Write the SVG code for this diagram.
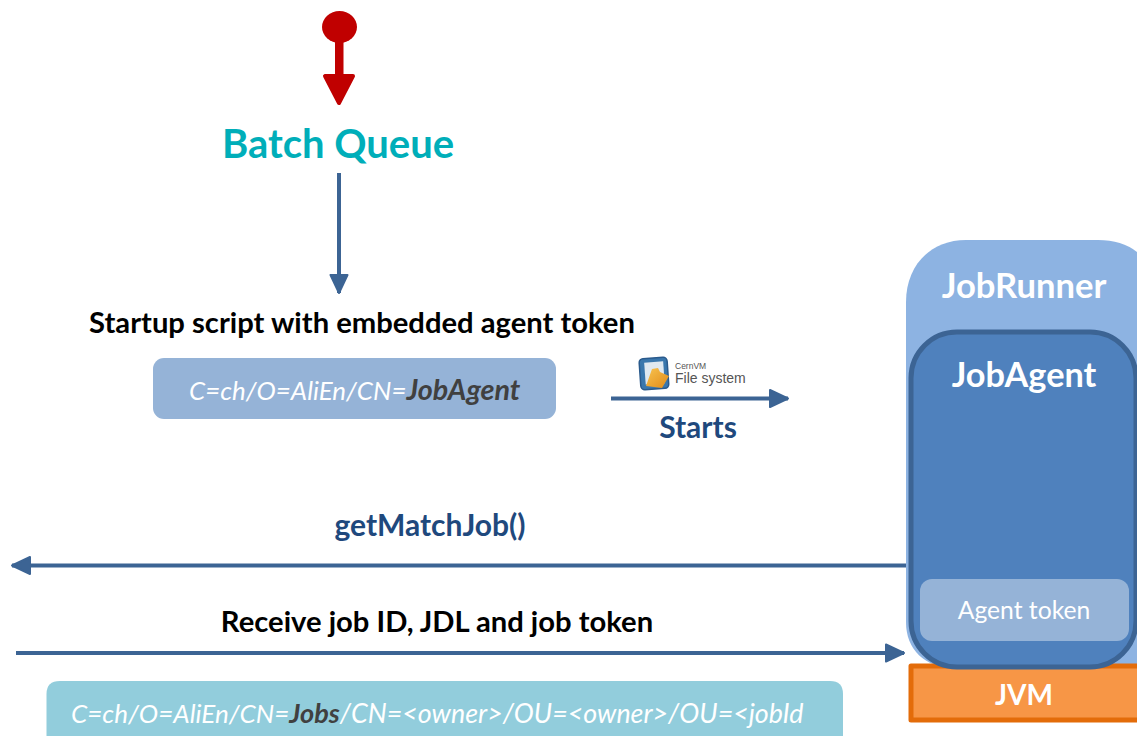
<svg xmlns="http://www.w3.org/2000/svg" width="1137" height="736" viewBox="0 0 1137 736">
<style>
text{font-family:"Lato","Open Sans",sans-serif}
.b{font-weight:700}
.w{fill:#fff}
.n{fill:#1f497d;font-weight:700;font-size:30px}
.k{fill:#000;font-weight:700;font-size:29.200px}
.i{font-style:italic;fill:#fff}
.d{fill:#404040;font-weight:700}
.c{stroke:#3c6494;stroke-width:4;fill:none}
.m{text-anchor:middle}
.s{font-family:"Liberation Sans",sans-serif;fill:#555}
</style>
<defs>
<marker id="a" markerUnits="userSpaceOnUse" markerWidth="24" markerHeight="24" refX="20" refY="12" orient="auto"><path d="M2 3.500L20 12L2 20.500Z" fill="#3c6494" stroke="#3c6494" stroke-width="2" stroke-linejoin="round"/></marker>
<linearGradient id="f" x1="0" y1="0" x2="1" y2="1"><stop offset="0" stop-color="#f8c450"/><stop offset="1" stop-color="#e08a18"/></linearGradient>
</defs>
<g id="start"><ellipse cx="339.500" cy="27" rx="17.500" ry="16" fill="#c00000"/><rect x="335" y="40" width="8.500" height="36" fill="#c00000"/><path d="M325 76H353L339 103Z" fill="#c00000" stroke="#c00000" stroke-width="4" stroke-linejoin="round"/></g>
<g id="batch-queue"><text x="338" y="158" class="b m" font-size="40" fill="#00aeb9">Batch Queue</text></g>
<g id="startup-label"><text x="362" y="333" class="k m">Startup script with embedded agent token</text></g>
<g id="agent-dn"><rect x="153" y="358" width="403" height="61" rx="11" fill="#95b3d7"/><text x="189" y="400" class="i" font-size="25.900">C=ch/O=AliEn/CN=<tspan class="d" font-size="28.700">JobAgent</tspan></text></g>
<g id="cvmfs-logo">
<rect x="640" y="358" width="28" height="31" rx="4" fill="#3a77ad" stroke="#2a5a8c" stroke-width="1.500" transform="rotate(-4 654 374)"/>
<rect x="645" y="362" width="19" height="22" fill="#dfe8f0" transform="rotate(-4 654 374)"/>
<path d="M646 386L652 369L658 368L660 372L669 376L662 388Z" fill="url(#f)"/>
<text x="675" y="369" font-size="8.500" class="s">CernVM</text>
<text x="675" y="383" font-size="14" class="s">File system</text>
</g>
<g id="starts-label"><text x="698" y="438" class="n m">Starts</text></g>
<g id="getmatchjob-label"><text x="430" y="536" class="n m">getMatchJob()</text></g>
<g id="receive-label"><text x="437" y="631.500" class="k m">Receive job ID, JDL and job token</text></g>
<g id="job-dn"><path d="M46.500 736V694Q46.500 681 60 681H830Q843 681 843 694V736Z" fill="#92cddc"/><text x="71" y="723" class="i" font-size="26">C=ch/O=AliEn/CN=<tspan class="d" font-size="27.100">Jobs</tspan><tspan font-size="26.800">/CN=&lt;owner&gt;/OU=&lt;owner&gt;/OU=&lt;jobId</tspan></text></g>
<g id="jobrunner"><path d="M1137 252Q1122 240 1098 240H966C930 240 906 266 906 302V622C906 650 925 668 955 668H1137Z" fill="#8db3e2"/><text x="1024" y="298" class="b w m" font-size="34.600">JobRunner</text></g>
<g id="jvm"><rect x="911" y="666" width="240" height="54" fill="#f79646" stroke="#e36c0a" stroke-width="5" stroke-linejoin="round"/><text x="1024" y="705" class="b w m" font-size="28">JVM</text></g>
<g id="jobagent"><rect x="911" y="332" width="225" height="335" rx="46" fill="#4f81bd" stroke="#3c6494" stroke-width="5"/><text x="1024" y="387" class="b w m" font-size="34.300">JobAgent</text></g>
<g id="agent-token"><rect x="920" y="579" width="209" height="62" rx="12" fill="#95b3d7"/><text x="1024" y="619" class="w m" font-size="24.700">Agent token</text></g>
<g id="connectors">
<path class="c" d="M339 173V293" marker-end="url(#a)"/>
<path class="c" d="M611 398.500H788" marker-end="url(#a)"/>
<path class="c" d="M906 565.500H12" marker-end="url(#a)"/>
<path class="c" d="M16 653H904" marker-end="url(#a)"/>
</g>
</svg>
